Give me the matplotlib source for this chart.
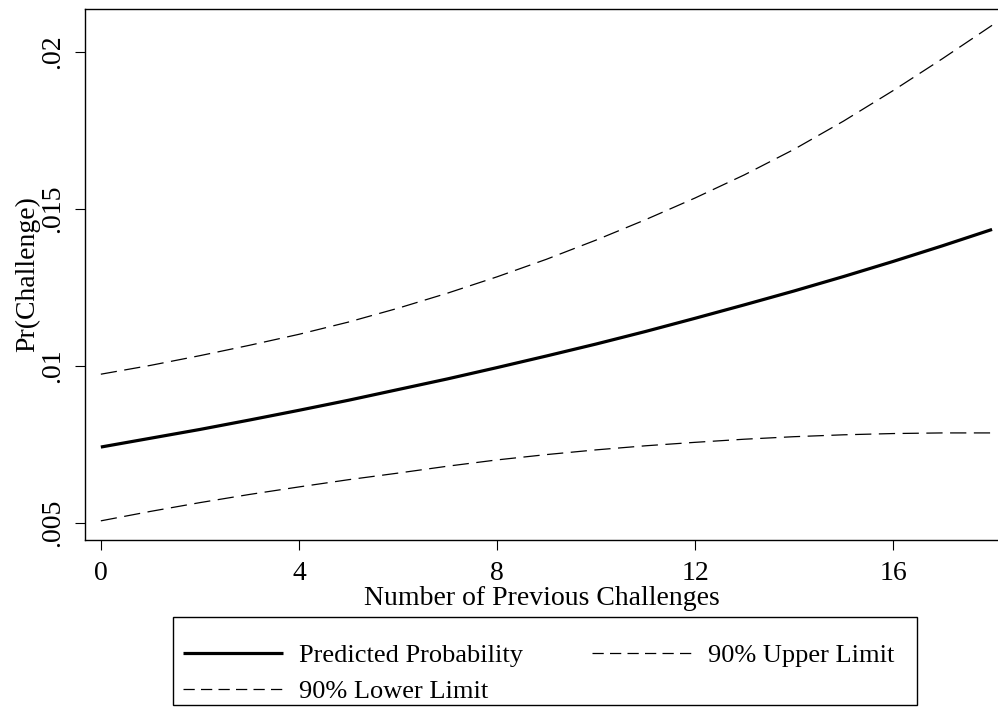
import matplotlib
matplotlib.use("Agg")
import matplotlib.pyplot as plt
from matplotlib.patches import Rectangle

x_vals = list(range(0, 19))
predicted = [0.00742, 0.00770, 0.00798, 0.00828, 0.00859, 0.00891, 0.00925, 0.00959, 0.00995,
             0.01032, 0.01070, 0.01110, 0.01152, 0.01195, 0.01239, 0.01285, 0.01333, 0.01383, 0.01435]
upper = [0.00974, 0.01002, 0.01033, 0.01066, 0.01101, 0.01140, 0.01184, 0.01232, 0.01284,
         0.01340, 0.01401, 0.01466, 0.01535, 0.01609, 0.01690, 0.01780, 0.01877, 0.01979, 0.02085]
lower = [0.00507, 0.00537, 0.00565, 0.00591, 0.00615, 0.00638, 0.00659, 0.00681, 0.00701,
         0.00718, 0.00733, 0.00746, 0.00757, 0.00767, 0.00775, 0.00781, 0.00785, 0.00787, 0.00787]
x_ticks = [0, 4, 8, 12, 16]
y_ticks = [0.005, 0.01, 0.015, 0.02]
y_tick_labels = [".005", ".01", ".015", ".02"]

plt.rcParams['font.family'] = ['Liberation Serif', 'DejaVu Serif']

fig = plt.figure(figsize=(9.98, 7.13), dpi=100)
ax = fig.add_axes([85/998, 1-540/713, 1-85/998, (540-9)/713])

l1, = ax.plot(x_vals, predicted, color='black', lw=2.3, solid_capstyle='butt')
l2, = ax.plot(x_vals, upper, color='black', lw=0.9, dashes=(13, 6))
l3, = ax.plot(x_vals, lower, color='black', lw=0.9, dashes=(13, 6))

ax.set_xlim(-0.32, 18.12)
ax.set_ylim(0.00446, 0.02137)
ax.set_xticks(x_ticks)
ax.set_xticklabels([str(t) for t in x_ticks])
ax.set_yticks(y_ticks)
ax.set_yticklabels(y_tick_labels, rotation=90, va='center')
ax.tick_params(direction='out', length=7, width=0.8, labelsize=20)
ax.tick_params(axis='x', pad=8)
ax.tick_params(axis='y', pad=7)
for s in ['left', 'bottom', 'top']:
    ax.spines[s].set_linewidth(1.0)
ax.spines['right'].set_visible(False)

ax.set_xlabel("Number of Previous Challenges", fontsize=20, labelpad=0)
ax.set_ylabel("Pr(Challenge)", fontsize=20, labelpad=0)

leg = fig.legend([l1, l3, l2], ["Predicted Probability", "90% Lower Limit", "90% Upper Limit"],
                 ncol=2, loc='upper left', bbox_to_anchor=(183/998, 1-644/713),
                 fontsize=19, frameon=False,
                 handlelength=3.8, handletextpad=0.6, columnspacing=2.6,
                 borderpad=0, labelspacing=0.45, borderaxespad=0)
for h in leg.legend_handles[1:]:
    h.set_dashes((9, 5))
fig.patches.append(Rectangle((173/998, 1-705/713), 744/998, 88/713, transform=fig.transFigure,
                             fill=False, edgecolor='black', linewidth=1.0))

fig.savefig("out.png", dpi=100)
